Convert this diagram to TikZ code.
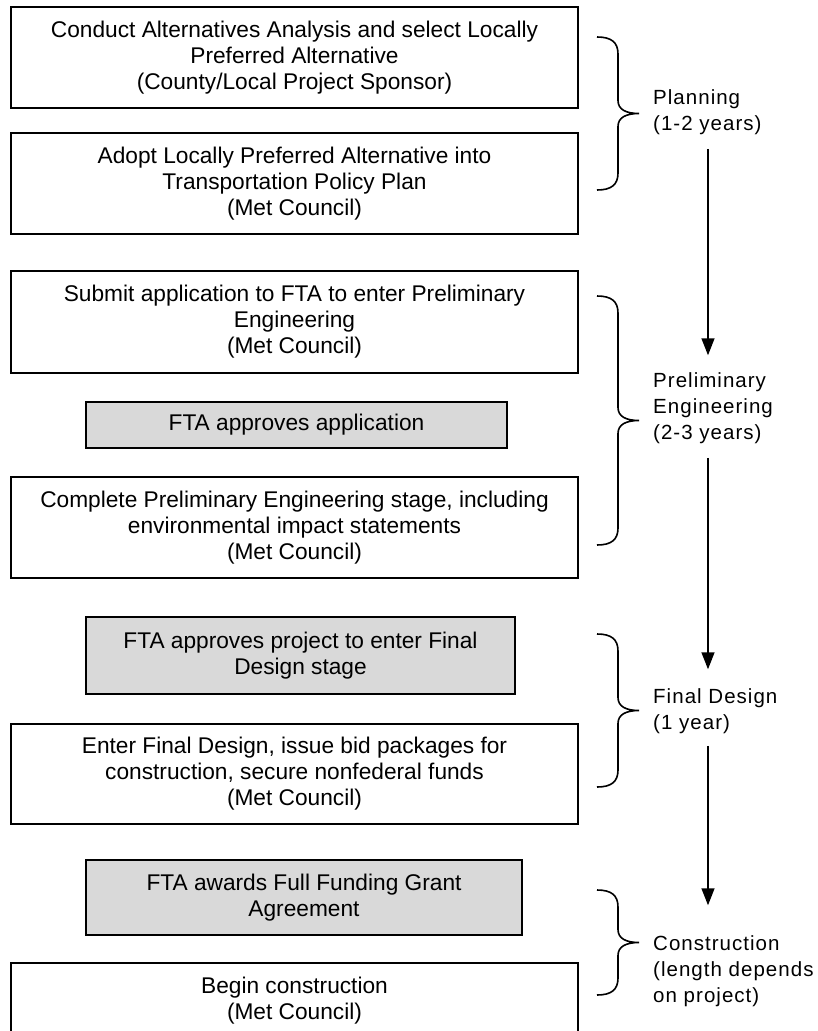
\documentclass[tikz,border=0pt]{standalone}
\usepackage{fontspec}
\setmainfont{Liberation Sans}
\newfontfamily\phasefont[LetterSpace=5]{Liberation Sans}
\usepackage{tikz}
\usetikzlibrary{arrows.meta}
\tikzstyle{stepbox}=[draw, line width=1.6pt, minimum width=567pt, minimum height=101pt,% one step of the process
inner sep=0pt, align=center, font=\fontsize{22.7}{26}\selectfont]
\tikzstyle{ftabox}=[stepbox, fill=gray!30]
\tikzstyle{phase}=[anchor=west, inner sep=0pt, align=left, font=\phasefont\fontsize{20.5}{26}\selectfont]
\tikzstyle{flow}=[-{Triangle[width=13pt,length=17pt]}, line width=1.6pt]
\tikzstyle{bracepen}=[line width=1.6pt]
% curly brace on the right of the boxes, from y=#1 down to y=#2
\newcommand{\phasebrace}[2]{%
\draw[bracepen] (597,#1) .. controls (611,#1) and (618,{#1+5}) .. (618,{#1+17})
 -- (618,{(#1+#2)/2-13}) .. controls (618,{(#1+#2)/2-4}) and (626,{(#1+#2)/2}) .. (639,{(#1+#2)/2})
 .. controls (626,{(#1+#2)/2}) and (618,{(#1+#2)/2+4}) .. (618,{(#1+#2)/2+13})
 -- (618,{#2-17}) .. controls (618,{#2-5}) and (611,#2) .. (597,#2);}
\begin{document}
\begin{tikzpicture}[x=1pt, y=-1pt]
\useasboundingbox (0,0) rectangle (818,1031);
\clip (0,0) rectangle (818,1031);
\node[stepbox] (aa) at (294.5,57.5) {Conduct Alternatives Analysis and select Locally\\Preferred Alternative\\(County/Local Project Sponsor)};
\node[stepbox] (lpa) at (294.5,183.5) {Adopt Locally Preferred Alternative into\\Transportation Policy Plan\\(Met Council)};
\node[stepbox, minimum height=102pt] (peapp) at (294.5,322) {Submit application to FTA to enter Preliminary\\Engineering\\(Met Council)};
\node[ftabox, minimum width=421pt, minimum height=46pt] (ftaok) at (296.5,425) {FTA approves application};
\node[stepbox] (pe) at (294.5,527.5) {Complete Preliminary Engineering stage, including\\environmental impact statements\\(Met Council)};
\node[ftabox, minimum width=429pt, minimum height=77pt] (fdok) at (300.5,655.5) {FTA approves project to enter Final\\Design stage};
\node[stepbox, minimum height=100pt] (fd) at (294.5,774) {Enter Final Design, issue bid packages for\\construction, secure nonfederal funds\\(Met Council)};
\node[ftabox, minimum width=436pt, minimum height=75pt] (ffga) at (304,897.5) {FTA awards Full Funding Grant\\Agreement};
\node[stepbox, minimum height=75pt] (build) at (294.5,1000.5) {Begin construction\\(Met Council)};

\phasebrace{37}{190}
\phasebrace{296}{545}
\phasebrace{634}{787}
\phasebrace{890}{995}

\node[phase] (plan) at (653,112) {Planning\\(1-2 years)};
\node[phase] (prelim) at (653,408) {Preliminary\\Engineering\\(2-3 years)};
\node[phase] (final) at (653,711) {Final Design\\(1 year)};
\node[phase] (constr) at (653,971) {Construction\\(length depends\\on project)};

\coordinate (ax) at (708,0);
\draw[flow, shorten <=14pt, shorten >=17pt] (plan.south -| ax) -- (prelim.north -| ax);
\draw[flow, shorten <=14pt, shorten >=19pt] (prelim.south -| ax) -- (final.north -| ax);
\draw[flow, shorten <=12pt, shorten >=30pt] (final.south -| ax) -- (constr.north -| ax);
\end{tikzpicture}
\end{document}
